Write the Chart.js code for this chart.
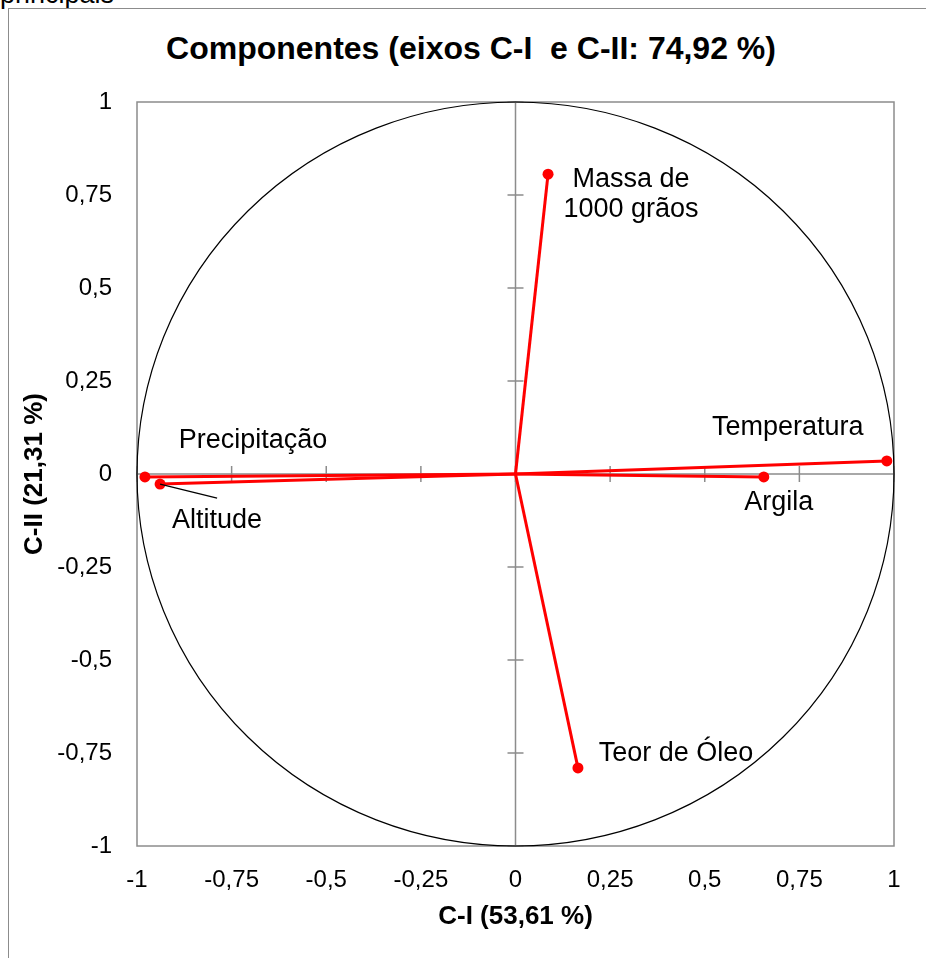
<!DOCTYPE html>
<html>
<head>
<meta charset="utf-8">
<script src="https://cdn.jsdelivr.net/npm/chart.js@4.4.1/dist/chart.umd.min.js"></script>
<style>
    html, body {
        margin: 0;
        padding: 0;
        background: #fff;
        overflow: hidden;
    }

    #wrap {
        position: relative;
        width: 926px;
        height: 958px;
        font-family: 'Liberation Sans', Arial, sans-serif;
    }

    #frame {
        position: absolute;
        left: 8px;
        top: 8px;
        width: 940px;
        height: 980px;
        border: 1.5px solid #8c8c8c;
        box-sizing: border-box;
    }

    #caption {
        position: absolute;
        left: 0;
        top: -19px;
        font-size: 27px;
        line-height: 27px;
        color: #000;
    }

    #title {
        position: absolute;
        left: 0;
        width: 942px;
        top: 32px;
        text-align: center;
        font-size: 32px;
        line-height: 32px;
        font-weight: bold;
        color: #000;
    }

    canvas {
        position: absolute;
        left: 0;
        top: 0;
    }
</style>
</head>
<body>
<div id="wrap">
    <div id="caption">principais</div>
    <div id="frame"></div>
    <div id="title">Componentes (eixos C-I&nbsp; e C-II: 74,92 %)</div>
    <canvas id="chart" width="926" height="958"></canvas>
</div>

<script>
// ============================================
// DATA
// ============================================

const variables = ['Massa de\n1000 grãos', 'Temperatura', 'Argila', 'Teor de Óleo', 'Precipitação', 'Altitude'];
const compI = [0.086, 0.981, 0.656, 0.165, -0.979, -0.939];
const compII = [0.806, 0.035, -0.008, -0.790, -0.008, -0.027];

const axisTicks = [-1, -0.75, -0.5, -0.25, 0, 0.25, 0.5, 0.75, 1];

const xTitle = 'C-I (53,61 %)';
const yTitle = 'C-II (21,31 %)';

// label placement, pixels from the point (centre x, baseline y)
const labelOffsets = [
    [83, 13],
    [-99, -26],
    [15, 33],
    [98, -7],
    [108, -29],
    [57, 44]
];

const FONT = "'Liberation Sans', Arial, sans-serif";
const RED = '#ff0000';
const GRAY = '#8c8c8c';

function formatTick(value) {
    return String(value).replace('.', ',');
}

// ============================================
// PLUGINS
// ============================================

const frameAndCircle = {
    id: 'frameAndCircle',

    beforeDatasetsDraw(chart) {
        const { ctx, chartArea, scales } = chart;
        const xs = scales.x;
        const ys = scales.y;

        const x0 = xs.getPixelForValue(0);
        const y0 = ys.getPixelForValue(0);

        ctx.save();

        // plot border
        ctx.strokeStyle = GRAY;
        ctx.lineWidth = 1.5;
        ctx.strokeRect(chartArea.left, chartArea.top, chartArea.width, chartArea.height);

        // zero axes
        ctx.beginPath();
        ctx.moveTo(chartArea.left, y0);
        ctx.lineTo(chartArea.right, y0);
        ctx.moveTo(x0, chartArea.top);
        ctx.lineTo(x0, chartArea.bottom);
        ctx.stroke();

        // cross tick marks on the zero axes
        ctx.beginPath();
        axisTicks.forEach(v => {
            const px = xs.getPixelForValue(v);
            ctx.moveTo(px, y0 - 8);
            ctx.lineTo(px, y0 + 8);

            const py = ys.getPixelForValue(v);
            ctx.moveTo(x0 - 8, py);
            ctx.lineTo(x0 + 8, py);
        });
        ctx.stroke();

        // correlation circle (radius 1)
        const rx = xs.getPixelForValue(1) - x0;
        const ry = y0 - ys.getPixelForValue(1);

        ctx.strokeStyle = '#000';
        ctx.lineWidth = 1.2;
        ctx.beginPath();
        ctx.ellipse(x0, y0, rx, ry, 0, 0, Math.PI * 2);
        ctx.stroke();

        ctx.restore();
    }
};

const variableLabels = {
    id: 'variableLabels',

    afterDatasetsDraw(chart) {
        const { ctx } = chart;

        ctx.save();
        ctx.fillStyle = '#000';
        ctx.font = `27px ${FONT}`;
        ctx.textAlign = 'center';
        ctx.textBaseline = 'alphabetic';

        variables.forEach((name, i) => {
            const meta = chart.getDatasetMeta(i);
            const pt = meta.data[1];
            const [dx, dy] = labelOffsets[i];

            name.split('\n').forEach((line, k) => {
                ctx.fillText(line, pt.x + dx, pt.y + dy + k * 30);
            });
        });

        // leader line for Altitude
        const alt = chart.getDatasetMeta(5).data[1];
        ctx.strokeStyle = '#000';
        ctx.lineWidth = 1.3;
        ctx.beginPath();
        ctx.moveTo(alt.x, alt.y);
        ctx.lineTo(alt.x + 57, alt.y + 14);
        ctx.stroke();

        ctx.restore();
    }
};

// ============================================
// CHART
// ============================================

const datasets = variables.map((name, i) => ({
    label: name,
    data: [
        { x: 0, y: 0 },
        { x: compI[i], y: compII[i] }
    ],
    showLine: true,
    borderColor: RED,
    backgroundColor: RED,
    borderWidth: 3,
    pointRadius: [0, 5.5],
    pointBackgroundColor: RED,
    pointBorderWidth: 0
}));

const tickFont = { family: FONT, size: 24 };
const titleFont = { family: FONT, size: 26, weight: 'bold' };

new Chart(document.getElementById('chart').getContext('2d'), {
    type: 'scatter',

    data: { datasets },

    options: {
        responsive: false,
        animation: false,
        devicePixelRatio: 1,

        layout: {
            padding: { top: 102, right: 32, bottom: 0, left: 0 }
        },

        plugins: {
            legend: { display: false },
            tooltip: { enabled: false },
            title: { display: false }
        },

        scales: {
            x: {
                type: 'linear',
                min: -1,
                max: 1,
                afterBuildTicks(scale) {
                    scale.ticks = axisTicks.map(v => ({ value: v }));
                },
                afterFit(scale) {
                    scale.height = 112;
                },
                grid: { display: false, drawTicks: false },
                border: { display: false },
                ticks: {
                    color: '#000',
                    font: tickFont,
                    padding: 20,
                    maxRotation: 0,
                    autoSkip: false,
                    callback: formatTick
                },
                title: {
                    display: true,
                    text: xTitle,
                    color: '#000',
                    font: titleFont,
                    padding: { top: 0, bottom: 26 }
                }
            },

            y: {
                type: 'linear',
                min: -1,
                max: 1,
                afterBuildTicks(scale) {
                    scale.ticks = axisTicks.map(v => ({ value: v }));
                },
                afterFit(scale) {
                    scale.width = 137;
                },
                grid: { display: false, drawTicks: false },
                border: { display: false },
                ticks: {
                    color: '#000',
                    font: tickFont,
                    padding: 25,
                    autoSkip: false,
                    callback: formatTick
                },
                title: {
                    display: true,
                    text: yTitle,
                    color: '#000',
                    font: titleFont,
                    padding: { top: 19, bottom: 0 }
                }
            }
        }
    },

    plugins: [frameAndCircle, variableLabels]
});
</script>
</body>
</html>
